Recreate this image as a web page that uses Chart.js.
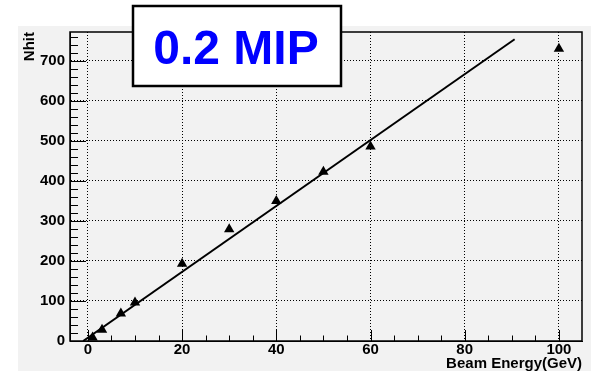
<!DOCTYPE html>
<html>
<head>
<meta charset="utf-8">
<script src="https://cdn.jsdelivr.net/npm/chart.js@4/dist/chart.umd.min.js"></script>
<style>
  body { margin: 0; background: #fff; }
  canvas { display: block; }
</style>
</head>
<body>
<canvas id="grafica" width="591" height="371"></canvas>
<script>
// datos
const energias = [1, 3, 7, 10, 20, 30, 40, 50, 60, 100];
const nhits = [9, 28, 69, 96, 193, 279, 350, 423, 486, 730];
// recta del ajuste (extremos)
const ajusteX = [-1, 90.6];
const ajusteY = [0, 754];
// etiquetas de los ejes
const ticksX = [0, 20, 40, 60, 80, 100];
const ticksY = [0, 100, 200, 300, 400, 500, 600, 700];
const rangoX = [-3.8, 104.9];
const rangoY = [0, 772];
const pasoMenorX = 5;
const pasoMenorY = 20;
const titulo = '0.2 MIP';

const fuente = "'Liberation Sans', Arial, sans-serif";

// fondo gris, marco, ticks interiores y cuadro del titulo
const decorado = {
    id: 'decorado',
    beforeDraw: function(chart) {
        let ctx = chart.ctx;
        ctx.save();
        ctx.fillStyle = '#ffffff';
        ctx.fillRect(0, 0, chart.width, chart.height);
        ctx.fillStyle = '#f2f2f2';
        ctx.fillRect(18, 26, chart.width - 18, chart.height - 26);
        ctx.restore();
    },
    afterDraw: function(chart) {
        let ctx = chart.ctx;
        let a = chart.chartArea;
        let sx = chart.scales.x;
        let sy = chart.scales.y;
        ctx.save();
        ctx.strokeStyle = '#000';
        ctx.lineWidth = 1;
        ctx.beginPath();
        // ticks del eje x (hacia arriba)
        for (let v = 0; v <= rangoX[1]; v += pasoMenorX) {
            let px = Math.round(sx.getPixelForValue(v)) + 0.5;
            let largo = (v % 20 === 0) ? 11 : 5.5;
            ctx.moveTo(px, a.bottom);
            ctx.lineTo(px, a.bottom - largo);
        }
        // ticks del eje y (hacia la derecha)
        for (let v = 0; v <= rangoY[1]; v += pasoMenorY) {
            let py = Math.round(sy.getPixelForValue(v)) + 0.5;
            let largo = (v % 100 === 0) ? 16 : 8;
            ctx.moveTo(a.left, py);
            ctx.lineTo(a.left + largo, py);
        }
        ctx.stroke();
        // marco
        ctx.lineWidth = 1.5;
        ctx.strokeRect(a.left, a.top, a.right - a.left, a.bottom - a.top);

        // cuadro del titulo
        ctx.fillStyle = '#ffffff';
        ctx.fillRect(133, 6, 208, 80);
        ctx.lineWidth = 2.5;
        ctx.strokeStyle = '#000';
        ctx.strokeRect(133, 6, 208, 80);
        ctx.fillStyle = '#0000ff';
        ctx.font = "bold 48px " + fuente;
        ctx.textAlign = 'center';
        ctx.textBaseline = 'alphabetic';
        ctx.fillText(titulo, 236, 64);
        ctx.restore();
    }
};

new Chart(document.getElementById('grafica'), {
    data: {
        datasets: [
            {
                type: 'line',
                data: ajusteX.map(function(x, i) { return { x: x, y: ajusteY[i] }; }),
                borderColor: '#000',
                borderWidth: 2,
                pointRadius: 0,
                fill: false
            },
            {
                type: 'scatter',
                data: energias.map(function(e, i) { return { x: e, y: nhits[i] }; }),
                pointStyle: 'triangle',
                pointRadius: 6,
                pointHoverRadius: 6,
                backgroundColor: '#000',
                borderColor: '#000',
                borderWidth: 0
            }
        ]
    },
    options: {
        responsive: false,
        animation: false,
        devicePixelRatio: 1,
        layout: { padding: { left: 18, top: 32, right: 9, bottom: 0 } },
        plugins: {
            legend: { display: false },
            tooltip: { enabled: false }
        },
        scales: {
            x: {
                type: 'linear',
                min: rangoX[0],
                max: rangoX[1],
                afterBuildTicks: function(scale) {
                    scale.ticks = ticksX.map(function(v) { return { value: v }; });
                },
                afterFit: function(scale) { scale.height = 30; },
                grid: { color: '#000', lineWidth: 1, drawTicks: false },
                border: { display: true, color: '#000', width: 1, dash: [1, 2] },
                ticks: {
                    color: '#000',
                    padding: 0,
                    maxRotation: 0,
                    font: { family: fuente, size: 15, weight: 'bold' }
                },
                title: {
                    display: true,
                    text: 'Beam Energy(GeV)',
                    align: 'end',
                    color: '#000',
                    padding: { top: 0, bottom: 0 },
                    font: { family: fuente, size: 15, weight: 'bold', lineHeight: 1 }
                }
            },
            y: {
                type: 'linear',
                min: rangoY[0],
                max: rangoY[1],
                afterBuildTicks: function(scale) {
                    scale.ticks = ticksY.map(function(v) { return { value: v }; });
                },
                afterFit: function(scale) { scale.width = 52; },
                grid: { color: '#000', lineWidth: 1, drawTicks: false },
                border: { display: true, color: '#000', width: 1, dash: [1, 2] },
                ticks: {
                    color: '#000',
                    padding: 5,
                    font: { family: fuente, size: 15, weight: 'bold' }
                },
                title: {
                    display: true,
                    text: 'Nhit',
                    align: 'end',
                    color: '#000',
                    padding: { top: 3, bottom: 0 },
                    font: { family: fuente, size: 15, weight: 'bold', lineHeight: 1.2 }
                }
            }
        }
    },
    plugins: [decorado]
});
</script>
</body>
</html>
